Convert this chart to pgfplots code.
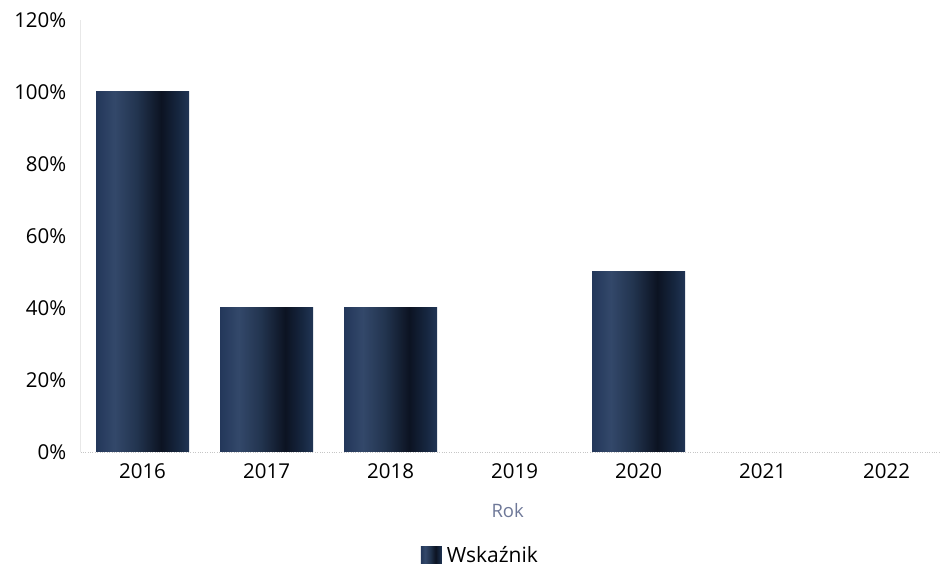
\documentclass[border=0pt]{standalone}
\usepackage{pgfplots}
\pgfplotsset{compat=1.18}
\usepackage{fontspec}
\setmainfont{Open Sans}

\definecolor{barA}{HTML}{23375A}
\definecolor{barB}{HTML}{33486A}
\definecolor{barC}{HTML}{22344F}
\definecolor{barD}{HTML}{0C1322}
\definecolor{barE}{HTML}{16263F}
\definecolor{barF}{HTML}{213555}
\definecolor{rokgray}{HTML}{6E7898}

% cylinder look for the bars (path spans 25bp..75bp)
\pgfdeclarehorizontalshading{cyl}{100bp}{color(0bp)=(barA); color(25bp)=(barA);
  color(35bp)=(barB); color(47bp)=(barC); color(60bp)=(barD);
  color(69bp)=(barE); color(75bp)=(barF); color(100bp)=(barF)}

\begin{document}
\begin{tikzpicture}
\useasboundingbox (0,0) rectangle (940bp,569bp);
\begin{axis}[
    at={(80.5bp,117bp)}, anchor=south west,
    scale only axis,
    width=859.5bp, height=432bp,
    ybar, bar width=93bp, bar shift=0pt,
    xmin=-0.5, xmax=6.43,
    ymin=0, ymax=120,
    xtick={0,...,6},
    xticklabels={2016,2017,2018,2019,2020,2021,2022},
    ytick={0,20,40,60,80,100,120},
    yticklabel={\pgfmathprintnumber{\tick}\%},
    /pgf/number format/assume math mode=true,
    major tick length=0pt,
    axis x line*=bottom, axis y line*=left,
    x axis line style={draw=gray!45, dotted, -},
    y axis line style={draw=gray!18, -},
    tick label style={font=\fontsize{20.5bp}{24bp}\selectfont, text=black},
    yticklabel style={anchor=east, inner sep=0pt, xshift=-14bp},
    xticklabel style={anchor=north, inner sep=0pt, yshift=-11bp},
    xlabel={Rok},
    xlabel style={at={(axis description cs:0.497,-0.135)}, anchor=center,
      inner sep=0pt, font=\fontsize{18.5bp}{22bp}\selectfont, text=rokgray},
    legend style={draw=none, fill=none, at={(axis description cs:0.396,-0.238)},
      anchor=west, inner sep=0pt, outer sep=0pt,
      font=\fontsize{21bp}{24bp}\selectfont,
      /tikz/every odd column/.append style={column sep=3bp}},
    legend image code/.code={\shade[shading=cyl] (0bp,-8.5bp) rectangle (21bp,8.5bp);},
    every axis plot/.append style={draw=none, shading=cyl},
]
% one plot per bar so every bar gets its own cylinder shading
\addplot coordinates {(0,100)};
\addlegendentry{Wskaźnik}
\addplot[forget plot] coordinates {(1,40)};
\addplot[forget plot] coordinates {(2,40)};
\addplot[forget plot] coordinates {(3,0)};
\addplot[forget plot] coordinates {(4,50)};
\addplot[forget plot] coordinates {(5,0)};
\addplot[forget plot] coordinates {(6,0)};
\end{axis}
\end{tikzpicture}
\end{document}
